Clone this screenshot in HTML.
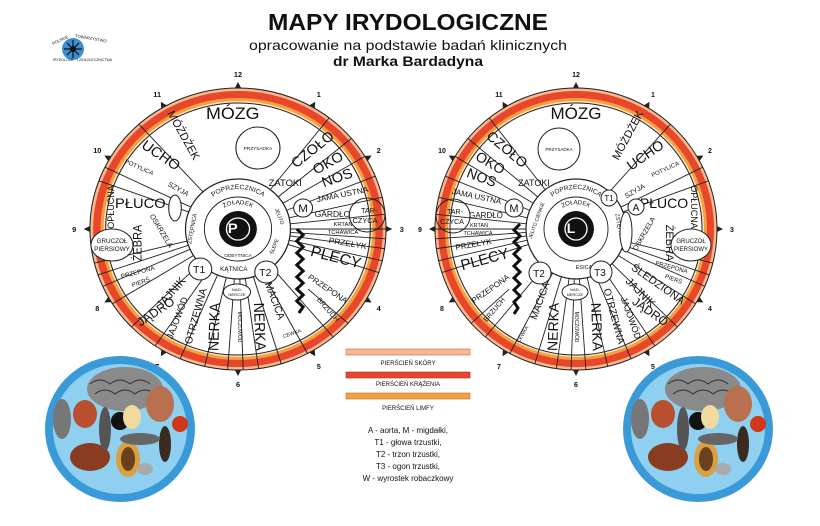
<!DOCTYPE html>
<html><head><meta charset="utf-8"><style>
html,body{margin:0;padding:0;background:#fff}
svg{display:block}
text{font-family:"Liberation Sans",sans-serif;fill:#111}
</style></head><body>
<svg width="820" height="526" viewBox="0 0 820 526" xmlns="http://www.w3.org/2000/svg">
<defs>
<g id="rings">
 <circle r="141" fill="#f7b98f" stroke="#222" stroke-width="1"/>
 <circle r="138" fill="#e8472b"/>
 <circle r="131" fill="#f4a040"/>
 <circle r="128" fill="#fbe3c6"/>
 <circle r="126" fill="#fff" stroke="#222" stroke-width="1"/>
</g>
<g id="spokes" stroke="#222" stroke-width="0.9">
 <line y1="-50" y2="-141" transform="rotate(38)"/>
 <line y1="-50" y2="-141" transform="rotate(50)"/>
 <line y1="-50" y2="-141" transform="rotate(59)"/>
 <line y1="-50" y2="-141" transform="rotate(68)"/>
 <line y1="-50" y2="-141" transform="rotate(77)"/>
 <line y1="-50" y2="-141" transform="rotate(84)"/>
 <line y1="-50" y2="-141" transform="rotate(90)"/>
 <line y1="-50" y2="-141" transform="rotate(94)"/>
 <line y1="-50" y2="-141" transform="rotate(98)"/>
 <line y1="-50" y2="-141" transform="rotate(103)"/>
 <line y1="-50" y2="-141" transform="rotate(108)"/>
 <line y1="-90" y2="-141" transform="rotate(132)"/>
 <line y1="-50" y2="-141" transform="rotate(140)"/>
 <line y1="-50" y2="-141" transform="rotate(152)"/>
 <line y1="-50" y2="-141" transform="rotate(163)"/>
 <line y1="-50" y2="-141" transform="rotate(172)"/>
 <line y1="-50" y2="-141" transform="rotate(178)"/>
 <line y1="-50" y2="-141" transform="rotate(184)"/>
 <line y1="-50" y2="-141" transform="rotate(193)"/>
 <line y1="-50" y2="-141" transform="rotate(203)"/>
 <line y1="-50" y2="-141" transform="rotate(214)"/>
 <line y1="-50" y2="-141" transform="rotate(226)"/>
 <line y1="-50" y2="-141" transform="rotate(238)"/>
 <line y1="-50" y2="-141" transform="rotate(246)"/>
 <line y1="-50" y2="-141" transform="rotate(251)"/>
 <line y1="-50" y2="-141" transform="rotate(256)"/>
 <line y1="-50" y2="-141" transform="rotate(290)"/>
 <line y1="-50" y2="-141" transform="rotate(296)"/>
 <line y1="-50" y2="-141" transform="rotate(318)"/>
</g>
<g id="clock">
 <g fill="#222">
 <path d="M-3,-141 L3,-141 L0,-147Z" transform="rotate(0)"/>
 <path d="M-3,-141 L3,-141 L0,-147Z" transform="rotate(30)"/>
 <path d="M-3,-141 L3,-141 L0,-147Z" transform="rotate(60)"/>
 <path d="M-3,-141 L3,-141 L0,-147Z" transform="rotate(90)"/>
 <path d="M-3,-141 L3,-141 L0,-147Z" transform="rotate(120)"/>
 <path d="M-3,-141 L3,-141 L0,-147Z" transform="rotate(150)"/>
 <path d="M-3,-141 L3,-141 L0,-147Z" transform="rotate(180)"/>
 <path d="M-3,-141 L3,-141 L0,-147Z" transform="rotate(210)"/>
 <path d="M-3,-141 L3,-141 L0,-147Z" transform="rotate(240)"/>
 <path d="M-3,-141 L3,-141 L0,-147Z" transform="rotate(270)"/>
 <path d="M-3,-141 L3,-141 L0,-147Z" transform="rotate(300)"/>
 <path d="M-3,-141 L3,-141 L0,-147Z" transform="rotate(330)"/>
 </g>
 <g font-size="7" text-anchor="middle" font-weight="bold">
 <text x="0" y="-152">12</text><text x="77" y="-132">1</text><text x="134" y="-76">2</text>
 <text x="156" y="3">3</text><text x="134" y="82">4</text><text x="77" y="140">5</text>
 <text x="0" y="158">6</text><text x="-77" y="140">7</text><text x="-134" y="82">8</text>
 <text x="-156" y="3">9</text><text x="-134" y="-76">10</text><text x="-77" y="-132">11</text>
 </g>
</g>
<g id="core">
 <circle r="50" fill="#fff" stroke="#222" stroke-width="1.2"/>
 <circle r="32" fill="#fff" stroke="#222" stroke-width="0.9"/>
 <circle r="18" fill="#111"/>
 <circle r="11" fill="none" stroke="#fff" stroke-width="1.3"/>
</g>
<path id="arcTop" d="M-40,0 A40,40 0 0 1 40,0"/>
<path id="arcIn" d="M-25,0 A25,25 0 0 1 25,0"/>
</defs>

<!-- title -->
<text x="408" y="30" font-size="23" font-weight="bold" text-anchor="middle" textLength="280" lengthAdjust="spacingAndGlyphs">MAPY IRYDOLOGICZNE</text>
<text x="408" y="50" font-size="14" text-anchor="middle" textLength="318" lengthAdjust="spacingAndGlyphs">opracowanie na podstawie badań klinicznych</text>
<text x="408" y="66" font-size="14" font-weight="bold" text-anchor="middle" textLength="150" lengthAdjust="spacingAndGlyphs">dr Marka Bardadyna</text>

<!-- logo -->
<g transform="translate(73,49)">
 <circle r="11" fill="#3b8fd0"/>
 <g stroke="#111" stroke-width="1.2">
  <line x1="-9" y1="0" x2="9" y2="0"/><line x1="0" y1="-9" x2="0" y2="9"/>
  <line x1="-6" y1="-6" x2="6" y2="6"/><line x1="-6" y1="6" x2="6" y2="-6"/>
 </g>
 <circle r="3" fill="#111"/>
 <text x="-20" y="-4" font-size="4" transform="rotate(-25,-20,-4)">POLSKIE</text>
 <text x="2" y="-12" font-size="4" transform="rotate(10,2,-12)">TOWARZYSTWO</text>
 <text x="-20" y="12" font-size="3.5">IRYDOLOGII</text><text x="4" y="12" font-size="3.5">I ZIOŁOLECZNICTWA</text>
</g>

<!-- LEFT MAP -->
<g transform="translate(238,229) scale(1.05,1)">
 <use href="#rings"/>
 <use href="#spokes"/>
 <use href="#clock"/>
 <use href="#core"/>
 <text x="-5" y="4" font-size="14" font-weight="bold" style="fill:#fff" text-anchor="middle">P</text>
 <text font-size="6.5" text-anchor="middle"><textPath href="#arcTop" startOffset="50%">POPRZECZNICA</textPath></text>
 <text font-size="6" text-anchor="middle"><textPath href="#arcIn" startOffset="50%">ŻOŁĄDEK</textPath></text>
 <text x="-42" y="0" font-size="5.5" text-anchor="middle" transform="rotate(-80,-42,0)">ZSTĘPNICA</text>
 <text x="38" y="-12" font-size="5" text-anchor="middle" transform="rotate(70,38,-12)">JELITO</text>
 <text x="36" y="18" font-size="5" text-anchor="middle" transform="rotate(-70,36,18)">ŚLEPE</text>
 <text x="-4" y="42" font-size="6" text-anchor="middle">KĄTNICA</text>
 <text x="0" y="28" font-size="4.5" text-anchor="middle">ODBYTNICA</text>

 <text x="-5" y="-110" font-size="17" text-anchor="middle">MÓZG</text>
 <circle cx="19" cy="-81" r="21" fill="#fff" stroke="#222"/>
 <text x="19" y="-79" font-size="4.5" text-anchor="middle">PRZYSADKA</text>
 <text x="-55" y="-92" font-size="11" text-anchor="middle" transform="rotate(62,-55,-92)">MÓŻDŻEK</text>
 <text x="-76" y="-70" font-size="14" text-anchor="middle" transform="rotate(35,-76,-70)">UCHO</text>
 <text x="-95" y="-60" font-size="6" text-anchor="middle" transform="rotate(25,-95,-60)">POTYLICA</text>
 <text x="-58" y="-38" font-size="7" text-anchor="middle" transform="rotate(30,-58,-38)">SZYJA</text>
 <text x="-93" y="-21" font-size="14" text-anchor="middle">PŁUCO</text>
 <text x="-118" y="-22" font-size="9" text-anchor="middle" transform="rotate(-90,-118,-22)">OPŁUCNA</text>
 <text x="-75" y="3" font-size="7" text-anchor="middle" transform="rotate(60,-75,3)">OSKRZELA</text>
 <text x="-92" y="14" font-size="11" text-anchor="middle" transform="rotate(-90,-92,14)">ŻEBRA</text>
 <ellipse cx="-60" cy="-21" rx="6" ry="13" fill="#fff" stroke="#222"/>
 <ellipse cx="-120" cy="16" rx="20" ry="16" fill="#fff" stroke="#222"/>
 <text x="-120" y="14" font-size="6" text-anchor="middle">GRUCZOŁ</text>
 <text x="-120" y="22" font-size="6" text-anchor="middle">PIERSIOWY</text>
 <text x="-95" y="45" font-size="6" text-anchor="middle" transform="rotate(-15,-95,45)">PRZEPONA</text>
 <text x="-92" y="55" font-size="6" text-anchor="middle" transform="rotate(-20,-92,55)">PIERŚ</text>
 <text x="-61" y="66" font-size="11" text-anchor="middle" transform="rotate(-50,-61,66)">JAJNIK</text>
 <text x="-76" y="86" font-size="12" text-anchor="middle" transform="rotate(-35,-76,86)">JĄDRO</text>
 <text x="-55" y="90" font-size="9" text-anchor="middle" transform="rotate(-70,-55,90)">JAJOWÓD</text>
 <text x="-37" y="88" font-size="10" text-anchor="middle" transform="rotate(-75,-37,88)">OTRZEWNA</text>
 <text x="-18" y="98" font-size="14" text-anchor="middle" transform="rotate(-88,-18,98)">NERKA</text>
 <text x="16" y="98" font-size="14" text-anchor="middle" transform="rotate(88,16,98)">NERKA</text>
 <text x="0" y="98" font-size="5" text-anchor="middle" transform="rotate(90,0,98)">MOCZOWÓD</text>
 <ellipse cx="-1" cy="63" rx="13" ry="8" fill="#fff" stroke="#222"/>
 <text x="-1" y="62" font-size="4" text-anchor="middle">NAD-</text><text x="-1" y="67" font-size="4" text-anchor="middle">NERCZE</text>
 <text x="32" y="73" font-size="10" text-anchor="middle" transform="rotate(70,32,73)">MACICA</text>
 <text x="52" y="106" font-size="5" text-anchor="middle" transform="rotate(-20,52,106)">CEWKA</text>
 <text x="92" y="33" font-size="15" text-anchor="middle" transform="rotate(15,92,33)">PLECY</text>
 <text x="84" y="62" font-size="8" text-anchor="middle" transform="rotate(35,84,62)">PRZEPONA</text>
 <text x="84" y="82" font-size="7" text-anchor="middle" transform="rotate(50,84,82)">BRZUCH</text>
 <text x="45" y="-43" font-size="9" text-anchor="middle">ZATOKI</text>
 <text x="74" y="-76" font-size="14" text-anchor="middle" transform="rotate(-40,74,-76)">CZOŁO</text>
 <text x="88" y="-62" font-size="14" text-anchor="middle" transform="rotate(-30,88,-62)">OKO</text>
 <text x="96" y="-47" font-size="14" text-anchor="middle" transform="rotate(-20,96,-47)">NOS</text>
 <text x="100" y="-32" font-size="8" text-anchor="middle" transform="rotate(-12,100,-32)">JAMA USTNA</text>
 <circle cx="62" cy="-21" r="9" fill="#fff" stroke="#222"/>
 <text x="62" y="-17" font-size="11" text-anchor="middle">M</text>
 <text x="90" y="-12" font-size="8" text-anchor="middle">GARDŁO</text>
 <circle cx="123" cy="-14" r="17" fill="none" stroke="#222"/>
 <text x="125" y="-16" font-size="7" text-anchor="middle">TAR-</text><text x="121" y="-6" font-size="7" text-anchor="middle">CZYCA</text>
 <text x="100" y="-3" font-size="5.5" text-anchor="middle">KRTAŃ</text>
 <text x="100" y="5" font-size="5.5" text-anchor="middle">TCHAWICA</text>
 <text x="104" y="17" font-size="8" text-anchor="middle" transform="rotate(10,104,17)">PRZEŁYK</text>
 <circle cx="-36" cy="40" r="11" fill="#fff" stroke="#222"/><text x="-37" y="44" font-size="10" text-anchor="middle">T1</text>
 <circle cx="27" cy="43" r="11" fill="#fff" stroke="#222"/><text x="26" y="47" font-size="10" text-anchor="middle">T2</text>
 <path d="M56,0 l6,6 -6,6 6,6 -6,6 6,6 -6,6 6,6 -6,6 6,6 -6,6 6,6 -6,6 6,6 -4,6" fill="none" stroke="#111" stroke-width="3"/>
</g>

<!-- RIGHT MAP -->
<g transform="translate(576,229)">
 <use href="#rings"/>
 <g transform="scale(-1,1)"><use href="#spokes"/></g>
 <use href="#clock"/>
 <use href="#core"/>
 <text x="-5" y="4" font-size="14" font-weight="bold" style="fill:#fff" text-anchor="middle">L</text>
 <text font-size="6.5" text-anchor="middle"><textPath href="#arcTop" startOffset="50%">POPRZECZNICA</textPath></text>
 <text font-size="6" text-anchor="middle"><textPath href="#arcIn" startOffset="50%">ŻOŁĄDEK</textPath></text>
 <text x="42" y="0" font-size="5.5" text-anchor="middle" transform="rotate(80,42,0)">ZSTĘPNICA</text>
 <text x="-38" y="-8" font-size="5" text-anchor="middle" transform="rotate(-70,-38,-8)">JELITO CIENKIE</text>
 <text x="8" y="40" font-size="5.5" text-anchor="middle">ESICA</text>

 <text x="0" y="-110" font-size="17" text-anchor="middle">MÓZG</text>
 <circle cx="-17" cy="-80" r="21" fill="#fff" stroke="#222"/>
 <text x="-17" y="-78" font-size="4.5" text-anchor="middle">PRZYSADKA</text>
 <text x="55" y="-92" font-size="11" text-anchor="middle" transform="rotate(-62,55,-92)">MÓŻDŻEK</text>
 <text x="72" y="-70" font-size="14" text-anchor="middle" transform="rotate(-35,72,-70)">UCHO</text>
 <text x="90" y="-58" font-size="6" text-anchor="middle" transform="rotate(-25,90,-58)">POTYLICA</text>
 <text x="60" y="-36" font-size="7" text-anchor="middle" transform="rotate(-30,60,-36)">SZYJA</text>
 <text x="88" y="-21" font-size="14" text-anchor="middle">PŁUCO</text>
 <text x="115" y="-22" font-size="9" text-anchor="middle" transform="rotate(90,115,-22)">OPŁUCNA</text>
 <text x="70" y="6" font-size="7" text-anchor="middle" transform="rotate(-60,70,6)">OSKRZELA</text>
 <text x="90" y="14" font-size="11" text-anchor="middle" transform="rotate(90,90,14)">ŻEBRA</text>
 <ellipse cx="50" cy="3" rx="6" ry="20" fill="#fff" stroke="#222"/>
 <circle cx="60" cy="-22" r="8" fill="#fff" stroke="#222"/><text x="60" y="-18" font-size="10" text-anchor="middle">A</text>
 <ellipse cx="115" cy="16" rx="20" ry="16" fill="#fff" stroke="#222"/>
 <text x="115" y="14" font-size="6" text-anchor="middle">GRUCZOŁ</text>
 <text x="115" y="22" font-size="6" text-anchor="middle">PIERSIOWY</text>
 <text x="95" y="40" font-size="6" text-anchor="middle" transform="rotate(15,95,40)">PRZEPONA</text>
 <text x="97" y="52" font-size="6" text-anchor="middle" transform="rotate(20,97,52)">PIERŚ</text>
 <text x="80" y="58" font-size="11" text-anchor="middle" transform="rotate(35,80,58)">ŚLEDZIONA</text>
 <text x="62" y="66" font-size="11" text-anchor="middle" transform="rotate(45,62,66)">JAJNIK</text>
 <text x="72" y="86" font-size="12" text-anchor="middle" transform="rotate(35,72,86)">JĄDRO</text>
 <text x="52" y="90" font-size="9" text-anchor="middle" transform="rotate(70,52,90)">JAJOWÓD</text>
 <text x="35" y="88" font-size="10" text-anchor="middle" transform="rotate(75,35,88)">OTRZEWNA</text>
 <text x="16" y="98" font-size="14" text-anchor="middle" transform="rotate(88,16,98)">NERKA</text>
 <text x="-18" y="98" font-size="14" text-anchor="middle" transform="rotate(-88,-18,98)">NERKA</text>
 <text x="-1" y="98" font-size="5" text-anchor="middle" transform="rotate(90,-1,98)">MOCZOWÓD</text>
 <ellipse cx="-1" cy="63" rx="13" ry="8" fill="#fff" stroke="#222"/>
 <text x="-1" y="62" font-size="4" text-anchor="middle">NAD-</text><text x="-1" y="67" font-size="4" text-anchor="middle">NERCZE</text>
 <text x="-33" y="73" font-size="10" text-anchor="middle" transform="rotate(-70,-33,73)">MACICA</text>
 <text x="-52" y="106" font-size="5" text-anchor="middle" transform="rotate(-60,-52,106)">CEWKA</text>
 <text x="-90" y="35" font-size="15" text-anchor="middle" transform="rotate(-15,-90,35)">PLECY</text>
 <text x="-84" y="62" font-size="8" text-anchor="middle" transform="rotate(-35,-84,62)">PRZEPONA</text>
 <text x="-80" y="82" font-size="7" text-anchor="middle" transform="rotate(-50,-80,82)">BRZUCH</text>
 <text x="-42" y="-43" font-size="9" text-anchor="middle">ZATOKI</text>
 <text x="-72" y="-76" font-size="14" text-anchor="middle" transform="rotate(40,-72,-76)">CZOŁO</text>
 <text x="-88" y="-62" font-size="14" text-anchor="middle" transform="rotate(30,-88,-62)">OKO</text>
 <text x="-96" y="-47" font-size="14" text-anchor="middle" transform="rotate(20,-96,-47)">NOS</text>
 <text x="-100" y="-30" font-size="8" text-anchor="middle" transform="rotate(12,-100,-30)">JAMA USTNA</text>
 <circle cx="-62" cy="-21" r="9" fill="#fff" stroke="#222"/>
 <text x="-62" y="-17" font-size="11" text-anchor="middle">M</text>
 <text x="-90" y="-11" font-size="8" text-anchor="middle">GARDŁO</text>
 <circle cx="-123" cy="-13" r="17" fill="none" stroke="#222"/>
 <text x="-121" y="-15" font-size="7" text-anchor="middle">TAR-</text><text x="-124" y="-5" font-size="7" text-anchor="middle">CZYCA</text>
 <text x="-97" y="-2" font-size="5.5" text-anchor="middle">KRTAŃ</text>
 <text x="-98" y="6" font-size="5.5" text-anchor="middle">TCHAWICA</text>
 <text x="-102" y="18" font-size="8" text-anchor="middle" transform="rotate(-10,-102,18)">PRZEŁYK</text>
 <circle cx="-36" cy="44" r="11" fill="#fff" stroke="#222"/><text x="-37" y="48" font-size="10" text-anchor="middle">T2</text>
 <circle cx="33" cy="-31" r="8" fill="#fff" stroke="#222"/><text x="33" y="-28" font-size="8" text-anchor="middle">T1</text>
 <circle cx="25" cy="43" r="11" fill="#fff" stroke="#222"/><text x="24" y="47" font-size="10" text-anchor="middle">T3</text>
 <path d="M-56,-5 l-6,6 6,6 -6,6 6,6 -6,6 6,6 -6,6 6,6 -6,6 6,6 -6,6 6,6 -6,6 4,6 -4,6" fill="none" stroke="#111" stroke-width="3"/>
</g>

<!-- legend -->
<rect x="346" y="349" width="124" height="6" fill="#f7b98f" stroke="#b86a40" stroke-width="0.6"/>
<text x="408" y="365" font-size="6" text-anchor="middle">PIERŚCIEŃ SKÓRY</text>
<rect x="346" y="372" width="124" height="6" fill="#e8472b" stroke="#a43020" stroke-width="0.6"/>
<text x="408" y="386" font-size="6" text-anchor="middle">PIERŚCIEŃ KRĄŻENIA</text>
<rect x="346" y="393" width="124" height="6" fill="#f4a040" stroke="#b07020" stroke-width="0.6"/>
<text x="408" y="410" font-size="6" text-anchor="middle">PIERŚCIEŃ LIMFY</text>
<g font-size="8" text-anchor="middle">
 <text x="408" y="433">A - aorta, M - migdałki,</text>
 <text x="408" y="445">T1 - głowa trzustki,</text>
 <text x="408" y="457">T2 - trzon trzustki,</text>
 <text x="408" y="469">T3 - ogon trzustki,</text>
 <text x="408" y="481">W - wyrostek robaczkowy</text>
</g>

<!-- bottom collages -->
<g id="col" transform="translate(120,429)">
 <ellipse rx="75" ry="73" fill="#3a9ad8"/>
 <ellipse rx="67" ry="65" fill="#8fd0f0"/>
 <ellipse cx="5" cy="-40" rx="38" ry="22" fill="#8a8a8a"/>
 <path d="M-30,-45 q10,-8 20,0 q10,-8 20,0 q10,-8 20,0" stroke="#333" fill="none"/>
 <path d="M-25,-35 q10,-8 20,0 q10,-8 20,0 q10,-8 20,0" stroke="#333" fill="none"/>
 <ellipse cx="-35" cy="-15" rx="12" ry="14" fill="#b85030"/>
 <ellipse cx="-58" cy="-10" rx="9" ry="20" fill="#777"/>
 <ellipse cx="-30" cy="28" rx="20" ry="14" fill="#8a3c20"/>
 <ellipse cx="0" cy="-8" rx="9" ry="9" fill="#111"/>
 <ellipse cx="12" cy="-12" rx="9" ry="12" fill="#f2d9a0"/>
 <ellipse cx="8" cy="30" rx="12" ry="18" fill="#d8a040"/>
 <ellipse cx="8" cy="30" rx="7" ry="12" fill="#6a4020"/>
 <ellipse cx="40" cy="-25" rx="14" ry="18" fill="#b87050"/>
 <ellipse cx="60" cy="-5" rx="8" ry="8" fill="#d03818"/>
 <ellipse cx="45" cy="15" rx="6" ry="18" fill="#3a2a20"/>
 <ellipse cx="20" cy="10" rx="20" ry="6" fill="#666"/>
 <ellipse cx="-15" cy="0" rx="6" ry="22" fill="#555"/>
 <ellipse cx="25" cy="40" rx="8" ry="6" fill="#aaa"/>
</g>
<use href="#col" transform="translate(578,0)"/>
</svg>
</body></html>
